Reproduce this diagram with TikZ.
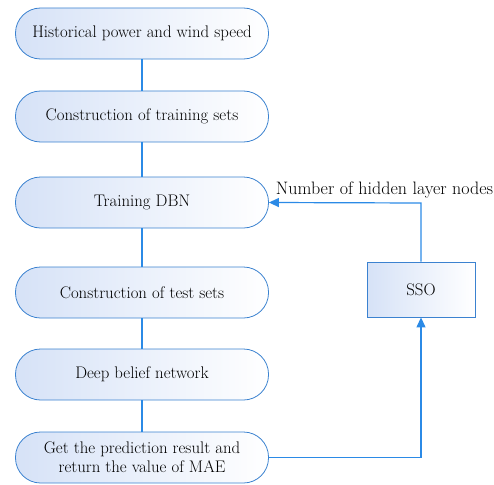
\documentclass[tikz,border=0pt]{standalone}
\usepackage{fontspec}
\usetikzlibrary{arrows.meta}
\definecolor{edgeblue}{RGB}{59,130,208}
\definecolor{lineblue}{RGB}{43,138,230}
\definecolor{shadeblue}{RGB}{214,226,247}
\begin{document}
\begin{tikzpicture}[x=1pt,y=-1pt,
  txt/.style={font=\fontsize{16.8}{19}\selectfont},
  flowbox/.style={txt, draw=edgeblue, line width=0.8pt, rounded corners=25pt,
    left color=shadeblue, right color=white, minimum width=253pt, minimum height=51pt,
    align=center, inner sep=0pt},
  ssobox/.style={txt, draw=edgeblue, line width=0.8pt,
    left color=shadeblue, right color=white, minimum width=108pt, minimum height=55pt,
    align=center, inner sep=0pt},
  conn/.style={draw=lineblue, line width=1.2pt},
  arr/.style={conn, -{Triangle[length=10pt,width=9pt]}}]
\useasboundingbox (0,0) rectangle (494,484);
\node[flowbox] (b1) at (142,33.5) {Historical power and wind speed};
\node[flowbox] (b2) at (142,116.5) {Construction of training sets};
\node[flowbox] (b3) at (142,202.5) {Training DBN};
\node[flowbox] (b4) at (142,292.5) {Construction of test sets};
\node[flowbox] (b5) at (142,374.5) {Deep belief network};
\node[flowbox] (b6) at (142,457.5) {Get the prediction result and\\return the value of MAE};
\node[ssobox] (sso) at (421,289.5) {SSO};
\coordinate (c1) at (421,203);
\coordinate (c2) at (421,457.5);
\draw[conn] (b1) -- (b2);
\draw[conn] (b2) -- (b3);
\draw[conn] (b3) -- (b4);
\draw[conn] (b4) -- (b5);
\draw[conn] (b5) -- (b6);
\draw[arr] (sso.north) -- (c1) -- (b3.east);
\draw[arr] (b6.east) -- (c2) -- (sso.south);
\node[font=\fontsize{18}{20}\selectfont, anchor=base, inner sep=0pt] (lbl) at (384.5,194) {Number of hidden layer nodes};
\end{tikzpicture}
\end{document}
